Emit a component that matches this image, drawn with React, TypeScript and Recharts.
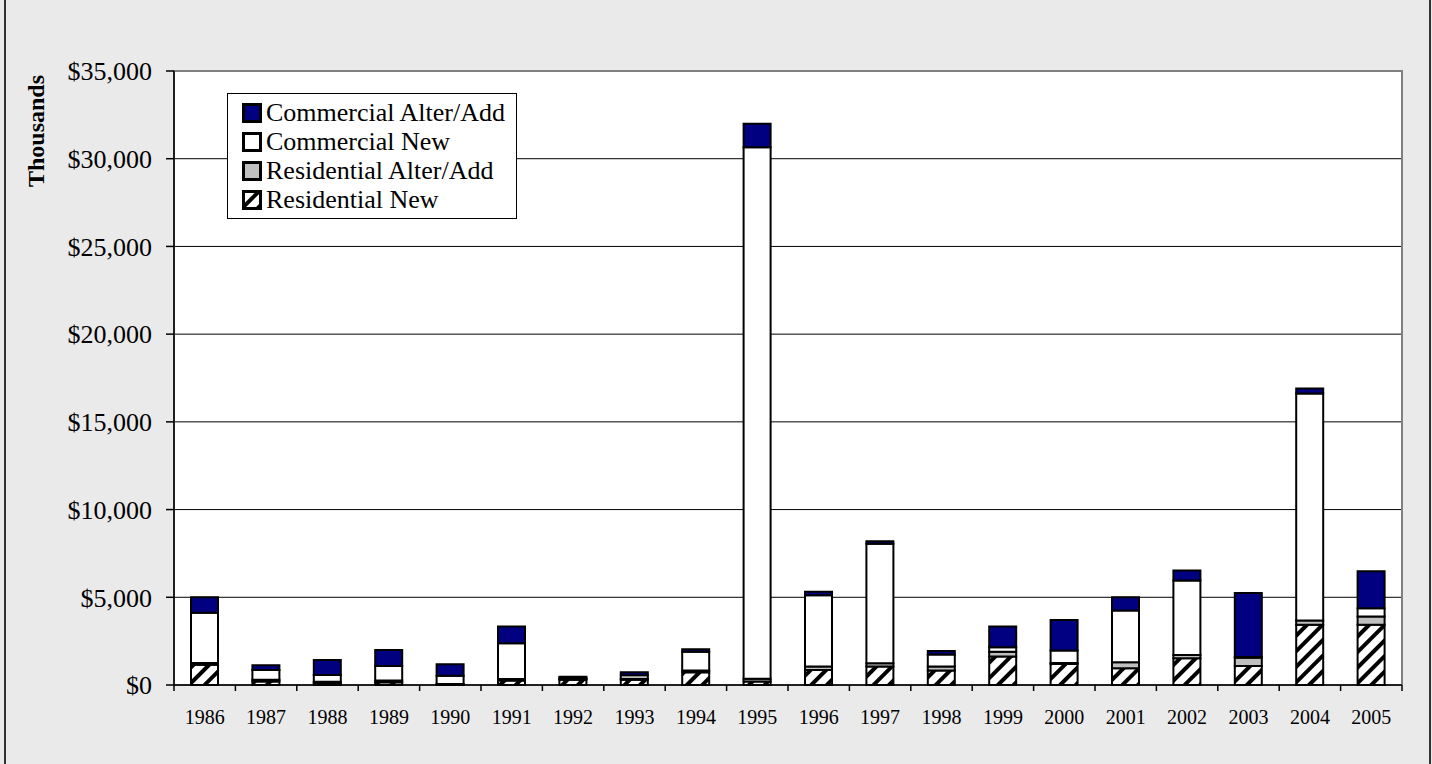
import React from "react";
import {
  Bar,
  BarChart,
  CartesianGrid,
  Legend,
  ReferenceArea,
  XAxis,
  YAxis,
} from "recharts";

const years = [
  "1986", "1987", "1988", "1989", "1990", "1991", "1992", "1993", "1994", "1995",
  "1996", "1997", "1998", "1999", "2000", "2001", "2002", "2003", "2004", "2005",
];
const residentialNew = [1150, 200, 100, 150, 30, 250, 300, 300, 720, 200, 860, 1050, 820, 1620, 1200, 950, 1520, 1090, 3430, 3430];
const residentialAlter = [100, 100, 80, 100, 30, 90, 50, 60, 100, 150, 200, 190, 230, 280, 50, 340, 190, 470, 250, 470];
const commercialNew = [2870, 550, 390, 840, 470, 2040, 50, 200, 1070, 30300, 4050, 6810, 690, 250, 710, 2950, 4250, 30, 12930, 480];
const commercialAlter = [880, 270, 860, 910, 650, 950, 70, 160, 150, 1350, 200, 150, 200, 1180, 1750, 760, 570, 3650, 290, 2100];
const yTicks = [0, 5000, 10000, 15000, 20000, 25000, 30000, 35000];
const gridValues = [5000, 10000, 15000, 20000, 25000, 30000];

const data = years.map((year, i) => ({
  year,
  resNew: residentialNew[i],
  resAlt: residentialAlter[i],
  comNew: commercialNew[i],
  comAlt: commercialAlter[i],
}));

const FONT = '"Liberation Serif", "Times New Roman", serif';
const WIDTH = 1432;
const HEIGHT = 764;
const MARGIN = { top: 71, right: 30, bottom: 0, left: 0 };
const Y_AXIS_W = 174;
const BAND = (WIDTH - MARGIN.right - Y_AXIS_W) / years.length;

const legendItems = [
  { label: "Commercial Alter/Add", fill: "#000080" },
  { label: "Commercial New", fill: "#ffffff" },
  { label: "Residential Alter/Add", fill: "#c0c0c0" },
  { label: "Residential New", fill: "url(#hatch)" },
];

const formatMoney = (v: number) => "$" + v.toLocaleString("en-US");

// category label in the middle, tick mark on the band edge (like Excel)
function YearTick(props: any) {
  const { x, y, payload, index } = props;
  const last = index === years.length - 1;
  return (
    <g>
      <line x1={x - BAND / 2} x2={x - BAND / 2} y1={y} y2={y + 6} stroke="#000" strokeWidth={1.5} />
      {last && <line x1={x + BAND / 2} x2={x + BAND / 2} y1={y} y2={y + 6} stroke="#000" strokeWidth={1.5} />}
      <text x={x} y={y + 39} textAnchor="middle" fontSize={20} fill="#000" fontFamily={FONT}>
        {payload.value}
      </text>
    </g>
  );
}

function ThousandsLabel() {
  return (
    <text
      x={36}
      y={131}
      transform="rotate(-90 36 131)"
      textAnchor="middle"
      dominantBaseline="central"
      fontWeight="bold"
      fontSize={24}
      fill="#000"
      fontFamily={FONT}
    >
      Thousands
    </text>
  );
}

function LegendBox() {
  return (
    <div
      style={{
        border: "1px solid #000",
        background: "#fff",
        padding: "4px 0 4px 14px",
        fontFamily: FONT,
        fontSize: 26,
        color: "#000",
        boxSizing: "border-box",
        width: 290,
        height: 126,
      }}
    >
      {legendItems.map((item) => (
        <div key={item.label} style={{ display: "flex", alignItems: "center", height: 29 }}>
          <svg width={20} height={20} style={{ marginRight: 4 }}>
            <rect x={1.5} y={1.5} width={17} height={17} fill={item.fill} stroke="#000" strokeWidth={3} />
          </svg>
          <span style={{ whiteSpace: "nowrap", lineHeight: "29px" }}>{item.label}</span>
        </div>
      ))}
    </div>
  );
}

export default function App() {
  return (
    <div
      style={{
        position: "fixed",
        left: 0,
        top: 0,
        width: WIDTH,
        height: HEIGHT,
        background: "#eaeaea",
        overflow: "hidden",
      }}
    >
      <div
        style={{
          position: "absolute",
          left: 4,
          top: -4,
          width: 1427,
          height: HEIGHT + 8,
          border: "2px solid #333",
          boxSizing: "border-box",
        }}
      />
      <BarChart
        width={WIDTH}
        height={HEIGHT}
        data={data}
        margin={MARGIN}
        barSize={27}
        style={{ fontFamily: FONT }}
      >
        <defs>
          <pattern id="hatch" patternUnits="userSpaceOnUse" width={11} height={11} patternTransform="rotate(45)">
            <rect width={11} height={11} fill="#fff" />
            <rect width={4} height={11} fill="#000" />
          </pattern>
        </defs>
        <CartesianGrid
          vertical={false}
          stroke="#000"
          strokeWidth={1}
          fill="#fff"
          horizontalValues={gridValues}
        />
        <XAxis
          dataKey="year"
          height={79}
          axisLine={{ stroke: "#000", strokeWidth: 1.5 }}
          tickLine={false}
          tickSize={0}
          tickMargin={0}
          interval={0}
          tick={<YearTick />}
        />
        <YAxis
          width={Y_AXIS_W}
          domain={[0, 35000]}
          ticks={yTicks}
          tickFormatter={formatMoney}
          axisLine={{ stroke: "#000", strokeWidth: 1.5 }}
          tickLine={{ stroke: "#000", strokeWidth: 1.5 }}
          tickSize={8}
          tickMargin={14}
          tick={{ fill: "#000", fontSize: 26, fontFamily: FONT }}
          label={<ThousandsLabel />}
        />
        <Bar dataKey="resNew" stackId="a" fill="url(#hatch)" stroke="#000" strokeWidth={2} isAnimationActive={false} />
        <Bar dataKey="resAlt" stackId="a" fill="#c0c0c0" stroke="#000" strokeWidth={2} isAnimationActive={false} />
        <Bar dataKey="comNew" stackId="a" fill="#ffffff" stroke="#000" strokeWidth={2} isAnimationActive={false} />
        <Bar dataKey="comAlt" stackId="a" fill="#000080" stroke="#000" strokeWidth={2} isAnimationActive={false} />
        <ReferenceArea y1={0} y2={35000} fill="none" stroke="#808080" strokeWidth={2} />
        <Legend
          layout="vertical"
          align="center"
          verticalAlign="middle"
          content={<LegendBox />}
          wrapperStyle={{ left: 227, top: 93, width: 290, height: 126 }}
        />
      </BarChart>
    </div>
  );
}
